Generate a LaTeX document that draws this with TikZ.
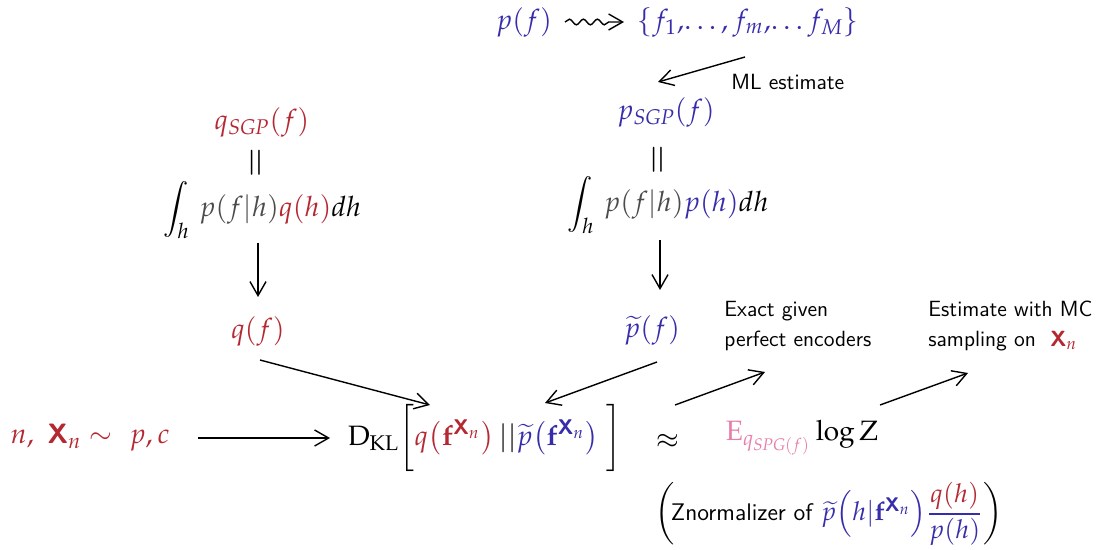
\documentclass[tikz,border=0pt]{standalone}
\usepackage{amsmath,amssymb}
\usepackage{mathpazo}
\usetikzlibrary{decorations.pathmorphing,arrows.meta}
\definecolor{cred}{RGB}{180,40,50}
\definecolor{cblue}{RGB}{55,45,170}
\definecolor{cpink}{RGB}{230,125,170}
\definecolor{cgray}{RGB}{75,75,75}
\newcommand{\bXs}{\text{\sffamily\bfseries X}}
\begin{document}
\begin{tikzpicture}[x=0.5pt,y=-0.5pt,
  every node/.style={font=\fontsize{14}{17}\selectfont, inner sep=1pt},
  arr/.style={-{Straight Barb[length=7pt,width=8pt]}, line width=0.7pt},
  eqv/.style={rotate=90, scale=1.3},
  lbl/.style={font=\sffamily\fontsize{11}{15}\selectfont, align=left, anchor=west}]
\useasboundingbox (0,0) rectangle (1117,550);
% top row
\node (pf) at (524,22) {$\color{cblue}p(f)$};
\node (set) at (748,22) {$\color{cblue}\{f_1,\!\dots, f_m,\!\dots f_M\}$};
\coordinate (sq1) at (565,22);
\coordinate (sq2) at (624,22);
\draw[line width=0.7pt, decorate, decoration={snake, amplitude=1.4pt, segment length=7pt, post length=6pt}, -{Straight Barb[length=7pt,width=8pt]}] (sq1) -- (sq2);
\coordinate (ml1) at (745,57);
\coordinate (ml2) at (658,82);
\draw[arr] (ml1) -- (ml2);
\node[lbl] (mllbl) at (729,82) {ML estimate};
% right column
\node (psgp) at (666,112) {$\color{cblue}p_{\mathit{SGP}}(f)$};
\node[eqv] (eqR) at (660,160) {$=$};
\node (intR) at (668,205) {$\displaystyle\int_h\, {\color{cgray}p(f|h)}{\color{cblue}p(h)}dh$};
\coordinate (dR1) at (660,240);
\coordinate (dR2) at (660,290);
\draw[arr] (dR1) -- (dR2);
\node (pt) at (652,330) {$\color{cblue}\widetilde{p}(f)$};
% left column
\node (qsgp) at (262,122) {$\color{cred}q_{\mathit{SGP}}(f)$};
\node[eqv] (eqL) at (258,163) {$=$};
\node (intL) at (262,210) {$\displaystyle\int_h\, {\color{cgray}p(f|h)}{\color{cred}q(h)}dh$};
\coordinate (dL1) at (258,243);
\coordinate (dL2) at (258,297);
\draw[arr] (dL1) -- (dL2);
\node (qf) at (258,331) {$\color{cred}q(f)$};
% converging arrows
\coordinate (cq1) at (260,360);
\coordinate (cq2) at (430,405);
\draw[arr] (cq1) -- (cq2);
\coordinate (cp1) at (657,362);
\coordinate (cp2) at (545,403);
\draw[arr] (cp1) -- (cp2);
% bottom row
\node (data) at (90,438) {$\color{cred} n,\ \bXs_n \sim\ p,c$};
\coordinate (da1) at (198,438);
\coordinate (da2) at (330,438);
\draw[arr] (da1) -- (da2);
\node (dkl) at (485,438) {$\mathrm{D}_{\mathrm{KL}}\bigg[{\color{cred}q\big(\mathbf{f}^{\bXs_n}\big)}\,||{\color{cblue}\widetilde{p}\big(\mathbf{f}^{\bXs_n}\big)}\;\bigg]$};
\node (approx) at (668,441) {$\approx$};
\node (elz) at (802,438) {${\color{cpink}\mathrm{E}_{q_{\mathit{SPG}(f)}}}\log \mathrm{Z}$};
\coordinate (ex1) at (675,405);
\coordinate (ex2) at (765,372);
\draw[arr] (ex1) -- (ex2);
\node[lbl] (exact) at (722,326) {Exact given\\perfect encoders};
\coordinate (es1) at (880,405);
\coordinate (es2) at (968,373);
\draw[arr] (es1) -- (es2);
\node[lbl] (estim) at (926,326) {Estimate with MC\\sampling on \ {\color{cred}$\bXs_n$}};
\node[font=\fontsize{13}{16}\selectfont] (norm) at (829,514) {$\bigg(\!\text{\sffamily\fontsize{12}{14}\selectfont Znormalizer of}\ {\color{cblue}\widetilde{p}\Big(h|\mathbf{f}^{\bXs_n}\Big)\dfrac{{\color{cred}q(h)}}{p(h)}}\bigg)$};
\end{tikzpicture}
\end{document}
